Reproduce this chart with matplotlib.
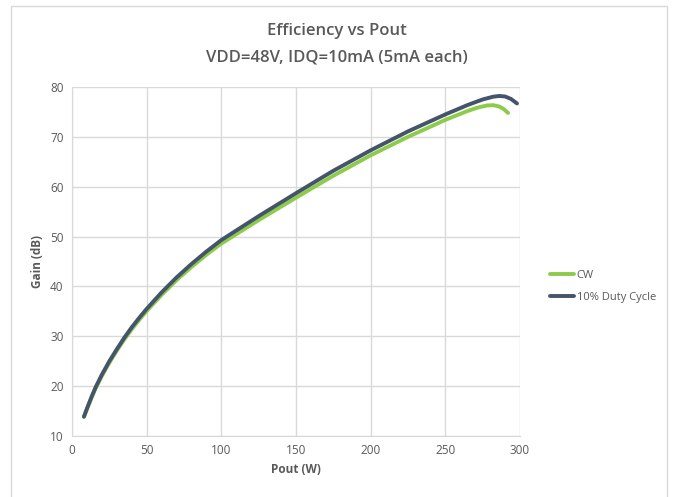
import matplotlib
matplotlib.use("Agg")
import matplotlib.pyplot as plt
from matplotlib.patches import Rectangle

# Data
pout_cw = [8, 10, 13, 16, 20, 25, 30, 35, 40, 45, 50, 60, 70, 80, 90, 100, 125, 150, 175, 200,
           225, 250, 265, 272, 278, 282, 286, 289, 292]
gain_cw = [13.8, 15.35, 17.6, 19.65, 22.05, 24.7, 27.1, 29.35, 31.4, 33.3, 35.05, 38.3, 41.25,
           43.9, 46.35, 48.6, 53.3, 57.8, 62.2, 66.3, 70.0, 73.4, 75.2, 75.9, 76.3, 76.35,
           76.1, 75.6, 74.8]

pout_dc = [8, 10, 13, 16, 20, 25, 30, 35, 40, 45, 50, 60, 70, 80, 90, 100, 125, 150, 175, 200,
           225, 250, 265, 275, 282, 286, 290, 294, 298]
gain_dc = [13.9, 15.5, 17.8, 19.9, 22.3, 25.0, 27.4, 29.7, 31.8, 33.7, 35.5, 38.8, 41.8, 44.5,
           47.0, 49.3, 54.1, 58.7, 63.2, 67.3, 71.1, 74.5, 76.4, 77.5, 78.05, 78.2, 78.1,
           77.6, 76.7]

series_names = ["CW", "10% Duty Cycle"]
x_ticks = [0, 50, 100, 150, 200, 250, 300]
y_ticks = [10, 20, 30, 40, 50, 60, 70, 80]

plt.rcParams['font.family'] = ['Open Sans', 'DejaVu Sans']

W, H = 675, 497
fig = plt.figure(figsize=(W / 100, H / 100), dpi=100)
fig.patches.append(Rectangle((11 / W, -0.01), (667 - 11) / W, 1 - 6 / H + 0.01,
                             transform=fig.transFigure, fill=False,
                             edgecolor='#d9d9d9', linewidth=1.0))

ax = fig.add_axes([72 / W, 1 - 436 / H, (520 - 72) / W, (436 - 87) / H])

green = '#8DCB4A'
dark = '#44546A'
ax.plot(pout_cw, gain_cw, color=green, lw=2.8, solid_capstyle='round',
        solid_joinstyle='round', label=series_names[0])
ax.plot(pout_dc, gain_dc, color=dark, lw=2.8, solid_capstyle='round',
        solid_joinstyle='round', label=series_names[1])

ax.set_xlim(0, 300)
ax.set_ylim(10, 80)
ax.set_xticks(x_ticks)
ax.set_yticks(y_ticks)
ax.grid(True, color='#d9d9d9', lw=1.0)
ax.set_axisbelow(True)
for s in ['top', 'right']:
    ax.spines[s].set_visible(False)
for s in ['left', 'bottom']:
    ax.spines[s].set_color('#d9d9d9')
ax.tick_params(length=0, colors='#595959', labelsize=8.5, pad=6)

ax.set_xlabel('Pout (W)', fontsize=8.5, fontweight='bold', color='#595959', labelpad=4)
ax.set_ylabel('Gain (dB)', fontsize=8.5, fontweight='bold', color='#595959', labelpad=4)

fig.text(337 / W, 1 - 31 / H, 'Efficiency vs Pout', ha='center', va='center',
         fontsize=12, color='#595959', fontweight='semibold')
fig.text(337 / W, 1 - 57 / H, 'VDD=48V, IDQ=10mA (5mA each)', ha='center', va='center',
         fontsize=12, color='#595959', fontweight='semibold')

leg = fig.legend(loc='upper left', bbox_to_anchor=(540 / W, 1 - 260 / H), frameon=False,
                 fontsize=8, handlelength=2.2, handletextpad=0.2, labelspacing=1.0,
                 labelcolor='#595959')

fig.savefig('out.png', dpi=100)
